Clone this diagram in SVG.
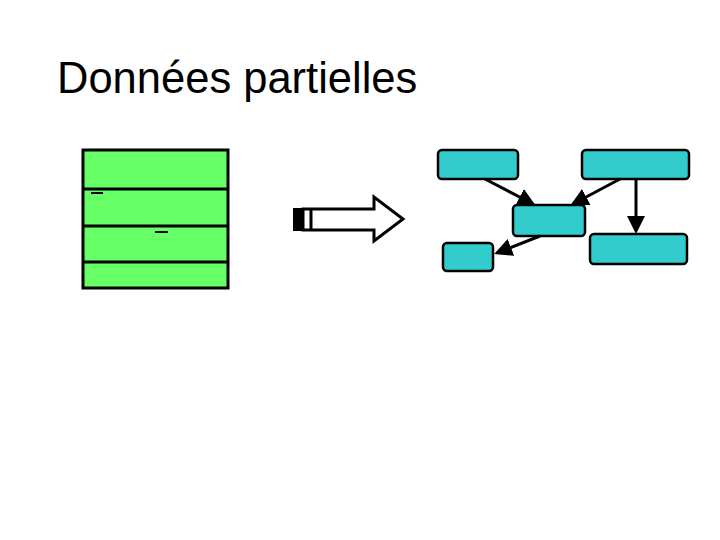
<svg xmlns="http://www.w3.org/2000/svg" width="720" height="540" viewBox="0 0 720 540">
<defs><marker id="ah" markerWidth="6" markerHeight="6" refX="5" refY="3" orient="auto" markerUnits="strokeWidth"><path d="M0,0 L6,3 L0,6 Z" fill="#000"/></marker>
<style>.n{fill:#33cccc;stroke:#000;stroke-width:2.5}.c{stroke:#000;stroke-width:3;fill:none;marker-end:url(#ah)}</style></defs>
<rect width="720" height="540" fill="#fff"/>
<text x="57" y="93" font-family="Liberation Sans, Arial, sans-serif" font-size="43.5">Données partielles</text>
<g id="table">
<rect x="83" y="150" width="145" height="138" fill="#66ff66" stroke="#000" stroke-width="3"/>
<path d="M83 189H228M83 226H228M83 262H228" stroke="#000" stroke-width="3"/>
<path d="M91 193H103M155 232H168" stroke="#000" stroke-width="2"/>
</g>
<g id="bigarrow">
<rect x="293" y="208" width="10" height="23" fill="#000"/>
<path d="M303 209H374V197L403 219L374 241V230H303Z" fill="#fff" stroke="#000" stroke-width="3"/>
<path d="M311 209V230" stroke="#000" stroke-width="3"/>
</g>
<g id="A"><rect class="n" x="438" y="150" width="80" height="29" rx="4"/></g>
<g id="B"><rect class="n" x="582" y="150" width="107" height="29" rx="4"/></g>
<g id="C"><rect class="n" x="513" y="205" width="72" height="31" rx="4"/></g>
<g id="D"><rect class="n" x="443" y="243" width="50" height="28" rx="4"/></g>
<g id="E"><rect class="n" x="590" y="234" width="97" height="30" rx="4"/></g>
<g id="connectors">
<path class="c" d="M485 179L533 204"/>
<path class="c" d="M620 179L573 204"/>
<path class="c" d="M636 179V231"/>
<path class="c" d="M540 236L497 253"/>
</g>
</svg>
